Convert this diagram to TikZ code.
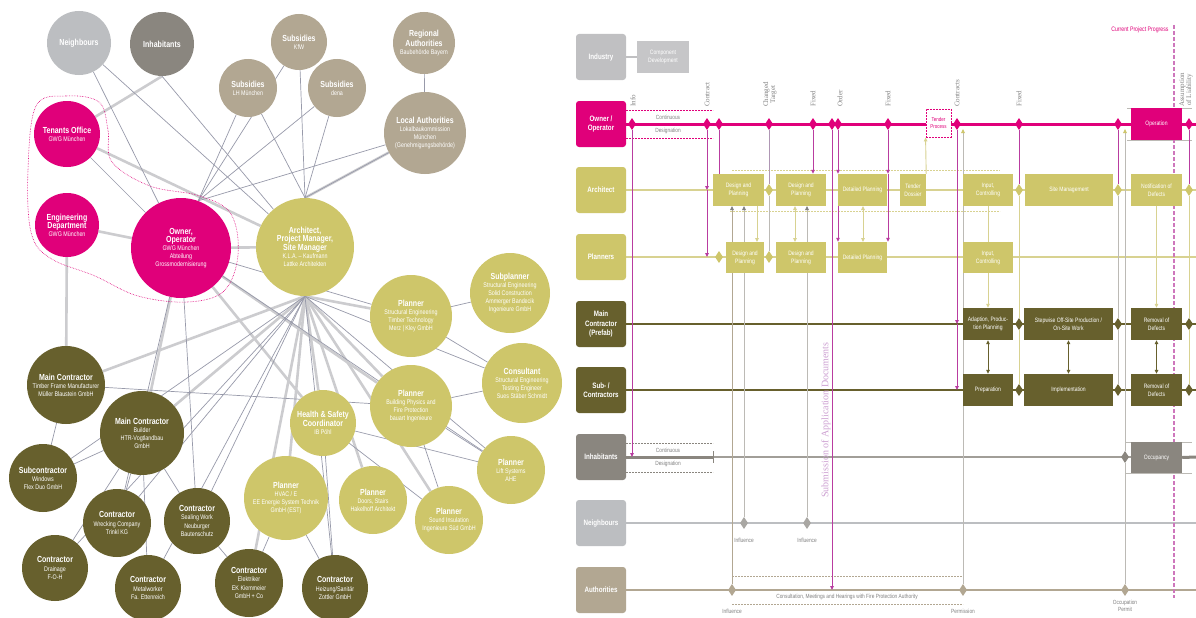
\documentclass[tikz,border=0pt]{standalone}
\usepackage{fontspec}
\setmainfont{Liberation Sans}[FakeStretch=0.8]
\newfontfamily\serifl{Liberation Serif}
\usetikzlibrary{shapes.geometric,arrows.meta,backgrounds}
\definecolor{mag}{RGB}{224,0,122}
\definecolor{archc}{RGB}{206,198,106}
\definecolor{olivec}{RGB}{103,96,45}
\definecolor{taupec}{RGB}{178,167,146}
\definecolor{inhc}{RGB}{138,134,127}
\definecolor{neic}{RGB}{188,190,193}
\definecolor{indc}{RGB}{192,192,194}
\definecolor{edget}{RGB}{204,204,207}
\definecolor{edgen}{RGB}{152,154,170}
\definecolor{vioc}{RGB}{185,60,160}
\definecolor{archl}{RGB}{216,210,145}
\definecolor{subc}{RGB}{205,160,210}
\definecolor{glc}{RGB}{188,186,181}
\newcommand\T[1]{{\fontsize{8.8}{9.8}\selectfont\bfseries #1}}
\begin{document}
\begin{tikzpicture}[x=1pt,y=-1pt,
  pc/.style 2 args={circle, fill=#1, minimum size=#2, inner sep=0pt, text=white, align=center, font=\fontsize{6.7}{8.1}\selectfont},
  tk/.style={draw=edget, line width=2.6pt},
  tn/.style={draw=edgen, line width=0.7pt},
  lane/.style={rounded corners=3pt, minimum width=50, minimum height=46, inner sep=1pt, text=white, align=center, font=\fontsize{7.8}{9.3}\selectfont\bfseries},
  bx/.style={minimum height=32, inner sep=1pt, text=white, align=center, font=\fontsize{6.3}{8}\selectfont},
  dia/.style={diamond, inner sep=0pt, minimum width=8, minimum height=12},
  va/.style={draw=vioc, line width=1pt, -{Triangle[length=4pt,width=3.6pt]}},
  vl/.style={draw=vioc, line width=1pt},
  gl/.style={draw=glc, line width=0.8pt},
  tl/.style={draw=archl, line width=0.9pt},
  tarr/.style={tl, -{Triangle[length=4pt,width=3.6pt]}},
  garr/.style={gl, -{Triangle[length=4pt,width=3.6pt,color=gray]}},
  dsh/.style={line width=0.5pt, dash pattern=on 2pt off 1pt},
  sm/.style={font=\fontsize{6}{7.2}\selectfont, text=gray, align=center},
  vt/.style={rotate=90, anchor=west, inner sep=1pt, font=\serifl\fontsize{7}{7}\selectfont, text=gray, align=center}
]
\useasboundingbox (0,0) rectangle (1196,618);

% ================= LEFT NETWORK =================
\node[pc={neic}{64}] (neigh) at (79,43) {\T{Neighbours}};
\node[pc={inhc}{64}] (inh) at (162,44) {\T{Inhabitants}};
\node[pc={mag}{66}] (ten) at (67,134) {\T{Tenants Office}\\GWG München};
\node[pc={mag}{64}] (eng) at (67,225) {\T{Engineering}\\\T{Department}\\GWG München};
\node[pc={mag}{100}] (own) at (181,248) {\T{Owner,}\\\T{Operator}\\GWG München\\Abteilung\\Grossmodernisierung};
\node[pc={archc}{98}] (arch) at (305,247) {\T{Architect,}\\\T{Project Manager,}\\\T{Site Manager}\\K.L.A. – Kaufmann\\Lattke Architekten};
\node[pc={taupec}{58}] (slh) at (248,88) {\T{Subsidies}\\LH München};
\node[pc={taupec}{56}] (kfw) at (299,42) {\T{Subsidies}\\KfW};
\node[pc={taupec}{58}] (sib) at (337,88) {\T{Subsidies}\\dena};
\node[pc={taupec}{62}] (reg) at (424,43) {\T{Regional}\\\T{Authorities}\\Baubehörde Bayern};
\node[pc={taupec}{82}] (loc) at (425,133) {\T{Local Authorities}\\Lokalbaukommission\\München\\(Genehmigungsbehörde)};
\node[pc={archc}{82}] (pse) at (411,316) {\T{Planner}\\Structural Engineering\\Timber Technology\\Merz | Kley GmbH};
\node[pc={archc}{80}] (spl) at (510,293) {\T{Subplanner}\\Structural Engineering\\Solid Construction\\Ammerger Bandecik\\Ingenieure GmbH};
\node[pc={archc}{80}] (con) at (522,383) {\T{Consultant}\\Structural Engineering\\Testing Engineer\\Sues Stäber Schmidt};
\node[pc={archc}{82}] (pbp) at (411,406) {\T{Planner}\\Building Physics and\\Fire Protection\\bauart Ingenieure};
\node[pc={archc}{68}] (plift) at (511,470) {\T{Planner}\\Lift Systems\\AHE};
\node[pc={archc}{68}] (psnd) at (449,520) {\T{Planner}\\Sound Insulation\\Ingenieure Süd GmbH};
\node[pc={archc}{68}] (pdoor) at (373,500) {\T{Planner}\\Doors, Stairs\\Hakelhoff Architekt};
\node[pc={archc}{66}] (hs) at (323,423) {\T{Health \& Safety}\\\T{Coordinator}\\IB Pöhl};
\node[pc={archc}{84}] (hvac) at (286,498) {\T{Planner}\\HVAC / E\\EE Energie System Technik\\GmbH (EST)};
\node[pc={olivec}{68}] (cel) at (249,583) {\T{Contractor}\\Elektriker\\EK Kiemmeier\\GmbH + Co};
\node[pc={olivec}{66}] (chs) at (335,588) {\T{Contractor}\\Heizung/Sanitär\\Zottler GmbH};
\node[pc={olivec}{78}] (mct) at (66,385) {\T{Main Contractor}\\Timber Frame Manufacturer\\Müller Blaustein GmbH};
\node[pc={olivec}{84}] (mcb) at (142,433) {\T{Main Contractor}\\Builder\\HTR-Vogtlandbau\\GmbH};
\node[pc={olivec}{68}] (sub) at (43,478) {\T{Subcontractor}\\Windows\\Flex Duo GmbH};
\node[pc={olivec}{68}] (cwr) at (117,523) {\T{Contractor}\\Wrecking Company\\Trinkl KG};
\node[pc={olivec}{66}] (csl) at (197,521) {\T{Contractor}\\Sealing Work\\Neuburger\\Bautenschutz};
\node[pc={olivec}{66}] (cdr) at (55,568) {\T{Contractor}\\Drainage\\F-O-H};
\node[pc={olivec}{66}] (cmt) at (148,588) {\T{Contractor}\\Metalworker\\Fa. Ettenreich};

\begin{scope}[on background layer]
\fill[white] (0,0) rectangle (1196,618);
% thick edges
\draw[tk] (inh.south) -- (ten);
\draw[tk] (ten) -- (arch);
\draw[tk] (eng) -- (own);
\draw[tk] (own) -- (arch);
\draw[tk] (loc) -- (arch.north);
\foreach \n in {mct,mcb,hs,pse,pbp,hvac,psnd,pdoor,cel}
  \draw[tk] (arch.south) -- (\n);
\draw[tk] (own) -- (mcb);
\draw[tk] (own) -- (hs);
\draw[tk] (own) -- (pbp);
\draw[tk] (eng) -- (mct);
% thin edges
\draw[tn] (neigh) -- (arch);
\draw[tn] (neigh) -- (own);
\draw[tn] (inh.south) -- (arch);
\foreach \n in {slh,kfw,sib,loc} {
  \draw[tn] (\n) -- (own.70);
  \draw[tn] (\n) -- (arch.north);
}
\draw[tn] (reg) -- (loc);
\draw[tn] (ten) -- (own);
\foreach \n in {sub,cwr,csl,cdr,cmt,chs,con,plift}
  \draw[tn] (arch.south) -- (\n);
\draw[tn] (pse) -- (spl);
\draw[tn] (pse) -- (con);
\draw[tn] (pbp) -- (con);
\draw[tn] (pbp) -- (plift);
\draw[tn] (pbp) -- (psnd);
\draw[tn] (own) -- (pse);
\draw[tn] (own) -- (csl);
\draw[tn] (own) -- (cwr);
\draw[tn] (own) -- (plift);
\draw[tn] (mct) -- (sub);
\draw[tn] (mcb) -- (sub);
\draw[tn] (mcb) -- (cwr);
\draw[tn] (mcb) -- (csl);
\draw[tn] (mcb) -- (cdr);
\draw[tn] (mct) -- (pbp);
\draw[tn] (hvac) -- (cel);
\draw[tn] (hvac) -- (chs);
\draw[tn] (hs) -- (chs);
\draw[tn] (hs) -- (psnd);
\draw[tn] (hs) -- (plift);
\draw[tn] (cel) -- (csl);
\draw[tn] (cmt) -- (mcb);
\end{scope}

% dotted outline owner group
\draw[mag, densely dotted, line width=0.6pt] plot[smooth cycle, tension=0.6] coordinates {(36,106) (66,96) (99,102) (108,130) (112,162) (150,186) (200,196) (231,214) (238,255) (224,291) (188,302) (138,296) (95,276) (50,258) (31,232) (28,170)};

% ================= RIGHT SWIMLANES =================
\node[lane, fill=indc] (lind) at (601,57) {Industry};
\node[lane, fill=mag] (lown) at (601,124) {Owner /\\Operator};
\node[lane, fill=archc] (larc) at (601,190) {Architect};
\node[lane, fill=archc] (lpla) at (601,257) {Planners};
\node[lane, fill=olivec] (lmc) at (601,324) {Main\\Contractor\\(Prefab)};
\node[lane, fill=olivec] (lsc) at (601,390) {Sub- /\\Contractors};
\node[lane, fill=inhc] (linh) at (601,457) {Inhabitants};
\node[lane, fill=neic] (lnei) at (601,523) {Neighbours};
\node[lane, fill=taupec] (laut) at (601,590) {Authorities};
\node[bx, fill=indc!90, minimum width=52, minimum height=31] (comp) at (663,57) {Component\\Development};

\foreach \n/\y in {own/124,arc/190,pla/257,mc/324,sc/390,inh/457,nei/523,aut/590}
  \coordinate (r\n) at (1196,\y);

% boxes
\node[bx, fill=archc, minimum width=51] (a1) at (738.5,190) {Design and\\Planning};
\node[bx, fill=archc, minimum width=50] (a2) at (801,190) {Design and\\Planning};
\node[bx, fill=archc, minimum width=49] (a3) at (862.5,190) {Detailed Planning};
\node[bx, fill=archc, minimum width=26] (a4) at (913,190) {Tender\\Dossier};
\node[bx, fill=archc, minimum width=50] (a5) at (988,190) {Input,\\Controlling};
\node[bx, fill=archc, minimum width=88] (a6) at (1069,190) {Site Management};
\node[bx, fill=archc, minimum width=51] (a7) at (1156.5,190) {Notification of\\Defects};
\node[bx, fill=archc, minimum width=38, minimum height=31] (p1) at (745,257.5) {Design and\\Planning};
\node[bx, fill=archc, minimum width=50, minimum height=31] (p2) at (801,257.5) {Design and\\Planning};
\node[bx, fill=archc, minimum width=49, minimum height=31] (p3) at (862.5,257.5) {Detailed Planning};
\node[bx, fill=archc, minimum width=50, minimum height=31] (p4) at (988,257.5) {Input,\\Controlling};
\node[bx, fill=olivec, minimum width=50] (m1) at (988,324) {Adaption, Produc-\\tion Planning};
\node[bx, fill=olivec, minimum width=89] (m2) at (1068.5,324) {Stepwise Off-Site Production /\\On-Site Work};
\node[bx, fill=olivec, minimum width=51] (m3) at (1156.5,324) {Removal of\\Defects};
\node[bx, fill=olivec, minimum width=50] (s1) at (988,390) {Preparation};
\node[bx, fill=olivec, minimum width=89] (s2) at (1068.5,390) {Implementation};
\node[bx, fill=olivec, minimum width=51] (s3) at (1156.5,390) {Removal of\\Defects};
\node[bx, fill=inhc, minimum width=51, minimum height=31] (occ) at (1156.5,457.5) {Occupancy};
\node[bx, fill=mag, minimum width=51] (oper) at (1156.5,124) {Operation};
\node[bx, fill=white, draw=mag, line width=0.9pt, dash pattern=on 2pt off 1pt, text=mag, minimum width=25, minimum height=28, font=\fontsize{5.6}{7}\selectfont] (tp) at (938.5,123) {Tender\\Process};

% diamonds
\foreach \x in {632,707,719,769,813,832,838,888,957,1019,1118,1189}
  \node[dia, fill=mag] (o\x) at (\x,124) {};
\foreach \x in {769,1019,1118,1189}
  \node[dia, fill=archc] (ad\x) at (\x,190) {};
\foreach \x in {719,769}
  \node[dia, fill=archc] (pd\x) at (\x,257) {};
\foreach \x in {1019,1118,1189} {
  \node[dia, fill=olivec] (md\x) at (\x,324) {};
  \node[dia, fill=olivec] (sd\x) at (\x,390) {};
}
\node[dia, fill=inhc] (ih1125) at (1125,457) {};
\node[dia, fill=glc!90!black] (nd744) at (744,523) {};
\node[dia, fill=glc!90!black] (nd807) at (807,523) {};
\foreach \x in {732,963,1125}
  \node[dia, fill=taupec] (au\x) at (\x,590) {};

\begin{scope}[on background layer]
% lane lines
\draw[indc, line width=2pt] (lind) -- (comp);
\draw[mag, line width=3pt] (lown.east) -- (rown);
\draw[archl, line width=2.2pt] (larc.east) -- (rarc);
\draw[archl, line width=2.2pt] (lpla.east) -- (rpla);
\draw[olivec, line width=2.5pt] (lmc.east) -- (rmc);
\draw[olivec, line width=2.5pt] (lsc.east) -- (rsc);
\draw[inhc!80, line width=1.3pt] (linh.east) -- (rinh);
\draw[inhc, line width=3pt] (linh.east) -- (713,457);
\draw[inhc, line width=1pt] (713,451) -- (713,463);
\draw[inhc, line width=3pt] (occ.east) -- (rinh);
\draw[neic, line width=2.6pt] (lnei.east) -- (rnei);
\draw[taupec, line width=2.4pt] (laut.east) -- (raut);
% dashed helpers
\draw[mag, dsh] (626,110) -- (713,110);
\draw[mag, dsh] (626,138) -- (713,138);
\draw[inhc, dsh] (626,443) -- (713,443);
\draw[inhc, dsh] (626,472) -- (713,472);
\draw[archl, dsh] (732,170) -- (1000,170);
\draw[archl, dsh] (730,211) -- (1000,211);
\draw[taupec, dsh] (732,576) -- (963,576);
\draw[taupec, dsh] (732,604) -- (963,604);
\draw[glc, line width=0.6pt] (1127,108) -- (1192,108);
\draw[glc, line width=0.6pt] (1127,140) -- (1192,140);
\draw[glc, line width=0.6pt] (1125,442) -- (1192,442);
\draw[glc, line width=0.6pt] (1125,473) -- (1192,473);
% verticals from owner
\draw[va] (o632) -- (o632 |- linh);
\draw[va] (o707) -- (o707 |- larc);
\draw[va] (o707 |- larc) -- (o707 |- lpla);
\draw[vl] (o719) -- (o719 |- a1.north);
\draw[gl, draw={rgb,255:red,175;green,150;blue,180}] (o769) -- (ad769);
\draw[gl] (ad769) -- (pd769);
\draw[va] (o813) -- (o813 |- a2.north);
\draw[va] (o832) -- (o832 |- laut);
\draw[va] (o838) -- (o838 |- a3.north);
\draw[va] (o838 |- a3.north) -- (o838 |- p3.north);
\draw[va] (o888) -- (o888 |- a3.north);
\draw[va] (o888 |- a3.north) -- (o888 |- p3.north);
\draw[va] (o957) -- (o957 |- lmc);
\draw[va] (o957 |- lmc) -- (o957 |- lsc);
\draw[gl, -{Triangle[length=4pt,width=3.6pt,color=archc]}] (au963) -- (963,129);
\draw[vl] (o1019) -- (ad1019);
\draw[tl] (ad1019) -- (md1019);
\draw[tl] (md1019) -- (sd1019);
\draw[vl] (o1118) -- (ad1118);
\draw[gl] (ad1118) -- (md1118);
\draw[gl] (md1118) -- (sd1118);
\draw[gl] (au1125) -- (ih1125);
\draw[gl, -{Triangle[length=4pt,width=3.6pt,color=archc]}] (ih1125) -- (1125,129);
\draw[vl] (o1189) -- (ad1189);
\draw[tl] (ad1189) -- (md1189);
\draw[tl] (md1189) -- (sd1189);
% architect / planner links
\draw[draw=taupec, line width=0.8pt, -{Triangle[length=4pt,width=3.6pt,color=gray]}] (au732) -- (732,206);
\draw[garr] (nd744) -- (744,206);
\draw[garr] (nd807) -- (807,206);
\draw[tarr] (757,206) -- (757,242);
\draw[tl, {Triangle[length=4pt,width=3.6pt]}-{Triangle[length=4pt,width=3.6pt]}] (795,206) -- (795,242);
\draw[tl, {Triangle[length=4pt,width=3.6pt]}-{Triangle[length=4pt,width=3.6pt]}] (863,206) -- (863,242);
\draw[tarr] (a4.north east) -- (tp.south west);
\draw[tl] (a5.south) -- (p4.north);
\draw[tarr] (p4.south) -- (m1.north);
\draw[tarr] (a7.south) -- (m3.north);
\draw[olivec, line width=1pt, {Triangle[length=4pt,width=3.6pt]}-{Triangle[length=4pt,width=3.6pt]}] (m1.south) -- (s1.north);
\draw[olivec, line width=1pt, {Triangle[length=4pt,width=3.6pt]}-{Triangle[length=4pt,width=3.6pt]}] (m2.south) -- (s2.north);
\draw[olivec, line width=1pt, {Triangle[length=4pt,width=3.6pt]}-{Triangle[length=4pt,width=3.6pt]}] (m3.south) -- (s3.north);
% current progress
\draw[vioc!70, line width=1.3pt, dash pattern=on 4pt off 2pt] (1174,25) coordinate (cpt) -- (1174,598) coordinate (cpb);
\end{scope}

% texts
\node[sm, anchor=east, text=mag, font=\fontsize{6.5}{7.5}\selectfont] (cpp) at (1172,30) {Current Project Progress};
\node[sm] (t1) at (668,117) {Continuous};
\node[sm] (t2) at (668,131) {Designation};
\node[sm] (t3) at (668,450) {Continuous};
\node[sm] (t4) at (668,464) {Designation};
\node[sm] (inf1) at (744,540) {Influence};
\node[sm] (inf2) at (807,540) {Influence};
\node[sm] (inf3) at (732,611) {Influence};
\node[sm] (perm) at (963,611) {Permission};
\node[sm] (occp) at (1125,606) {Occupation\\Permit};
\node[sm] (cons) at (847,597) {Consultation, Meetings and Hearings with Fire Protection Authority};
\node[rotate=90, text=subc, font=\serifl\fontsize{10}{10}\selectfont] (subm) at (826,420) {Submission of Application Documents};

\node[vt] at (633,108) {Info};
\node[vt] at (707,108) {Contract};
\node[vt] at (770,108) {Changed\\Target};
\node[vt] at (813,108) {Fixed};
\node[vt] at (840,108) {Order};
\node[vt] at (888,108) {Fixed};
\node[vt] at (957,108) {Contracts};
\node[vt] at (1019,108) {Fixed};
\node[vt] at (1186,108) {Assumption\\of Liability};
\end{tikzpicture}
\end{document}
